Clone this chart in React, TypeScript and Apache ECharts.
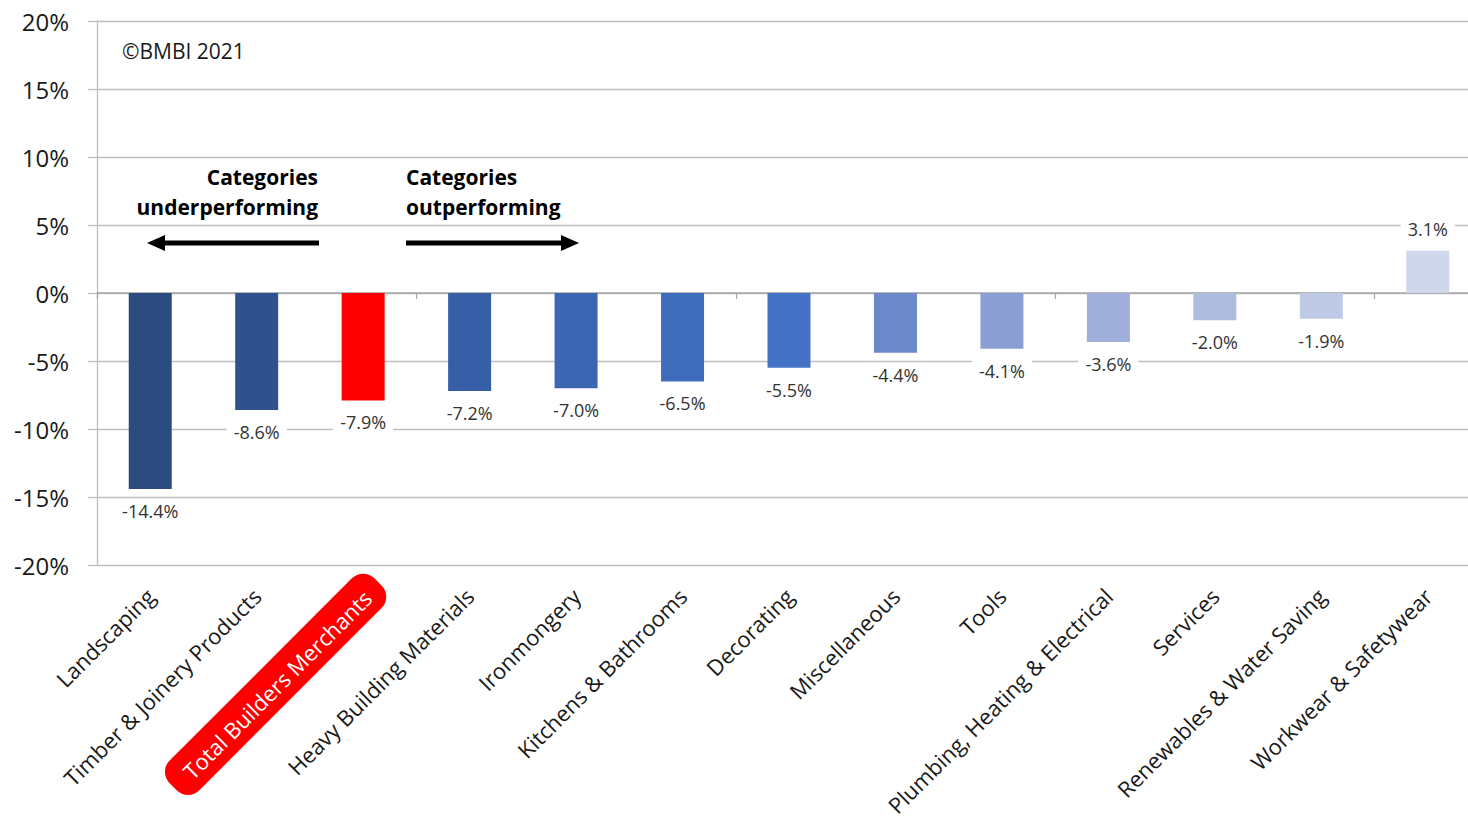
import React, { useEffect, useRef } from "react";
import * as echarts from "echarts";

const categories = [
  "Landscaping",
  "Timber & Joinery Products",
  "Total Builders Merchants",
  "Heavy Building Materials",
  "Ironmongery",
  "Kitchens & Bathrooms",
  "Decorating",
  "Miscellaneous",
  "Tools",
  "Plumbing, Heating & Electrical",
  "Services",
  "Renewables & Water Saving",
  "Workwear & Safetywear",
];

const values = [-14.4, -8.6, -7.9, -7.2, -7.0, -6.5, -5.5, -4.4, -4.1, -3.6, -2.0, -1.9, 3.1];

const barColors = [
  "#2B4A7E",
  "#2F528F",
  "#FF0000",
  "#375FA8",
  "#3C66B2",
  "#3F6DBE",
  "#4472C4",
  "#6A88CA",
  "#8A9ED4",
  "#9FAFDA",
  "#AEBCE0",
  "#BFCAE6",
  "#CFD7EC",
];

const yTicks = { min: -20, max: 20, interval: 5 };

const highlightCategory = "Total Builders Merchants";

const FONT = "'Open Sans', 'Noto Sans', sans-serif";

export default function App() {
  const ref = useRef<HTMLDivElement>(null);

  useEffect(() => {
    if (!ref.current) return;
    const chart = echarts.init(ref.current, undefined, { renderer: "svg" });

    const data = values.map((v, i) => ({
      value: v,
      itemStyle: { color: barColors[i] },
      label: {
        position: v < 0 ? "bottom" : "top",
      },
    }));

    const labelAxisBase = {
      type: "category",
      data: categories,
      gridIndex: 0,
      position: "bottom",
      axisLine: { show: false, onZero: false },
      axisTick: { show: false },
      splitLine: { show: false },
    };

    chart.setOption({
      animation: false,
      backgroundColor: "#ffffff",
      textStyle: { fontFamily: FONT },
      grid: { left: 97, top: 21, width: 1384, height: 547, containLabel: false },
      xAxis: [
        {
          type: "category",
          data: categories,
          gridIndex: 0,
          position: "bottom",
          axisLine: { show: true, onZero: true, lineStyle: { color: "#A6A6A6", width: 1.5 } },
          axisTick: { show: true, length: 6, lineStyle: { color: "#A6A6A6", width: 1.2 } },
          axisLabel: { show: false },
          splitLine: { show: false },
        },
        {
          ...labelAxisBase,
          axisLabel: {
            show: true,
            interval: 0,
            rotate: 45,
            margin: 27,
            fontSize: 22,
            color: "#1a1a1a",
            fontFamily: FONT,
            formatter: (v: string) => (v === highlightCategory ? "" : v),
          },
        },
        {
          ...labelAxisBase,
          axisLabel: {
            show: true,
            interval: 0,
            rotate: 45,
            margin: 2,
            verticalAlign: "top",
            fontSize: 22,
            color: "#ffffff",
            fontFamily: FONT,
            formatter: (v: string) => (v === highlightCategory ? `{hl|${v}}` : ""),
            rich: {
              hl: {
                color: "#ffffff",
                backgroundColor: "#FF0000",
                borderRadius: 16,
                padding: [11, 16, 9, 18],
                fontSize: 22,
                fontFamily: FONT,
              },
            },
          },
        },
      ],
      yAxis: {
        type: "value",
        min: yTicks.min,
        max: yTicks.max,
        interval: yTicks.interval,
        axisLine: { show: true, lineStyle: { color: "#BFBFBF", width: 1.3 } },
        axisTick: { show: true, length: 9, lineStyle: { color: "#BFBFBF", width: 1.3 } },
        axisLabel: {
          fontSize: 24,
          color: "#1a1a1a",
          margin: 28,
          fontFamily: FONT,
          formatter: (v: number) => `${v}%`,
        },
        splitLine: { show: true, lineStyle: { color: "#BFBFBF", width: 1.3 } },
      },
      series: [
        {
          type: "bar",
          xAxisIndex: 0,
          yAxisIndex: 0,
          barWidth: 43,
          data,
          label: {
            show: true,
            distance: 10,
            fontSize: 18,
            color: "#333333",
            fontFamily: FONT,
            backgroundColor: "#ffffff",
            padding: [3, 7, 3, 7],
            formatter: (p: any) => `${Number(p.value).toFixed(1)}%`,
          },
        },
      ],
      graphic: [
        {
          type: "text",
          left: 122,
          top: 40,
          style: { text: "©BMBI 2021", fontSize: 21, fill: "#1a1a1a", fontFamily: FONT },
        },
        {
          type: "text",
          x: 318,
          y: 162,
          style: {
            text: "Categories\nunderperforming",
            fontSize: 21,
            fontWeight: "bold",
            fill: "#000000",
            fontFamily: FONT,
            align: "right",
            lineHeight: 30,
          },
        },
        {
          type: "text",
          x: 406,
          y: 162,
          style: {
            text: "Categories\noutperforming",
            fontSize: 21,
            fontWeight: "bold",
            fill: "#000000",
            fontFamily: FONT,
            align: "left",
            lineHeight: 30,
          },
        },
        {
          type: "line",
          shape: { x1: 162, y1: 243, x2: 319, y2: 243 },
          style: { stroke: "#000000", lineWidth: 5 },
        },
        {
          type: "polygon",
          shape: { points: [[147, 243], [165, 235], [165, 251]] },
          style: { fill: "#000000" },
        },
        {
          type: "line",
          shape: { x1: 406, y1: 243, x2: 564, y2: 243 },
          style: { stroke: "#000000", lineWidth: 5 },
        },
        {
          type: "polygon",
          shape: { points: [[579, 243], [561, 235], [561, 251]] },
          style: { fill: "#000000" },
        },
      ],
    });

    return () => chart.dispose();
  }, []);

  return (
    <div
      ref={ref}
      style={{ position: "fixed", left: 0, top: 0, width: 1500, height: 819, background: "#fff" }}
    />
  );
}
